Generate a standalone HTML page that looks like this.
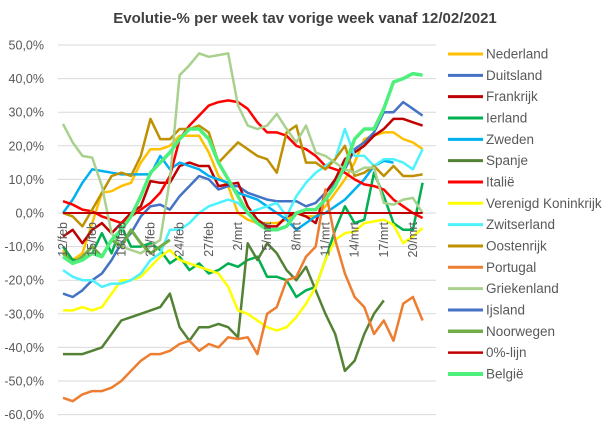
<!DOCTYPE html>
<html><head><meta charset="utf-8"><style>
body{margin:0;background:#fff;}
svg{display:block;font-family:"Liberation Sans",sans-serif;}
</style></head><body>
<svg id="c" width="607" height="424" xmlns="http://www.w3.org/2000/svg">
<rect width="607" height="424" fill="#fff"/>
<text x="305" y="23" text-anchor="middle" font-size="15" font-weight="bold" fill="#404040">Evolutie-% per week tav vorige week vanaf 12/02/2021</text>
<g id="grid"></g><g id="lines"></g><g id="leg"></g>
</svg>
<script>
var NS="http://www.w3.org/2000/svg",svg=document.getElementById('c');
function el(t,a,p,txt){var e=document.createElementNS(NS,t);for(var k in a)e.setAttribute(k,a[k]);if(txt!=null)e.textContent=txt;(p||svg).appendChild(e);return e;}
function Y(v){return 213-3.36*v;}function X(d){return 63+9.72*d;}
var g=document.getElementById('grid');
for(var v=50;v>=-60;v-=10){el('line',{x1:58,x2:436,y1:Y(v),y2:Y(v),stroke:'#d9d9d9','stroke-width':1},g);
el('text',{x:44,y:Y(v)+4.5,'text-anchor':'end','font-size':12.5,fill:'#595959'},g,v.toFixed(1).replace('.',',')+'%');}
var labs=['12/feb','15/feb','18/feb','21/feb','24/feb','27/feb','2/mrt','5/mrt','8/mrt','11/mrt','14/mrt','17/mrt','20/mrt'];
var S=[
['Nederland','#ffc000',2.5,[-11,-14,-12,-3,6,6.5,8,9,15,19,19,20,23,23,23,18,11,8,0,-2,-3,-3,-3,-2,0,-1,-1,2,6,10,15,22,23,24,24,22,21,19]],
['Duitsland','#4472c4',2.5,[-24,-25,-23,-20,-18,-14,-9,-6,-1,2,2.5,1,5,8,11,10,7,8,8,6,5,4,3.5,3.5,3.5,2,3,6,9,13,19,21,24,30,30,33,31,29]],
['Frankrijk','#c00000',2.5,[-7,-5,-9,-5,-3,-6,-3,0,2,9.5,9,9,14,15,14,14,8,8.5,9,2,-2,-4,-4,-1,0,-1,-3,6,10,16,18,20,23,25,28,28,27,26]],
['Ierland','#00b050',2.5,[-10,-14,-14,-12,-6,-12,-4,-10,-10,-9,-11,-15,-13,-17,-15,-18,-17,-15,-16,-14,-13,-19,-19,-20,-25,-23,-22,-14,-5,2,-3,-2,12,5,-3,-5,-5,9]],
['Zweden','#00b0f0',2.5,[0,4,9,13,12.5,12,11.5,11.5,11.5,11.5,17,13,15,14,13,11,10,9,6,5,4,2,0,-2,-5,-3,-1,0,2,4,7,10,14,15.5,15]],
['Spanje','#548235',2.5,[-42,-42,-42,-41,-40,-36,-32,-31,-30,-29,-28,-24,-34,-38,-34,-34,-33,-34,-37,-9,-14,-9,-12,-17,-20,-16,-23,-30,-36,-47,-44,-36,-30,-26]],
['Italië','#ff0000',2.5,[3.5,2.5,1,0.5,-1,-2,-3,-1,1,3,6,11,22,26,29,32,33,33.5,33,31,27,24,24,23,20,19,17,14,13,12,10,8.5,8,7,4,2,0,-1.5]],
['Verenigd Koninkrijk','#ffff00',2.5,[-29,-29,-28,-29,-28,-24,-20,-20,-19,-16,-13,-11,-14,-15,-16,-17,-18,-22,-29,-30,-32,-34,-35,-34,-31,-27,-22,-14,-8,-6,-5.5,-3,-2.5,-2,-3.5,-9,-7,-4.5]],
['Zwitserland','#4df2ff',2.5,[-17,-19,-20,-20,-22,-21,-21,-20,-18,-14,-12,-5,-5,-3,0,2,3,4,3,0,1,2,3,-1,5,9,12,14,16,25,17,17,14,16,16,15,13,19]],
['Oostenrijk','#bf9000',2.5,[0,-1,-4,1,6,11,12,11,17,28,22,22,25,25,26,24,15,18,21,19,17,16,12,24,26,15,15,13,16,20,11,12,14,11,14,11,11,11.5]],
['Portugal','#ed7d31',2.5,[-55,-56,-54,-53,-53,-52,-50,-47,-44,-42,-42,-41,-39,-38,-41,-39,-40,-37,-37.5,-37,-42,-30,-28,-20,-19,-13,-10,7,-8,-18,-25,-28,-36,-32,-38,-27,-25,-32]],
['Griekenland','#a9d18e',2.5,[26.5,21,17,16.5,8,-6,-10,-11,-12,-10,-8,10,41,44,47.5,46.5,47,47.5,32,26,25,26,29.5,25,21,26,18,17,15,13,12,13.5,13.5,3,2.5,4,4.5,0]],
['Ijsland','#4472c4',2.5,[]],
['Noorwegen','#70ad47',3,[-12,-15,-13,-10,-13,-8,-10,-5,-9,-12,-10,-8]],
['0%-lijn','#c00000',2,[0,0,0,0,0,0,0,0,0,0,0,0,0,0,0,0,0,0,0,0,0,0,0,0,0,0,0,0,0,0,0,0,0,0,0,0,0,0]],
['België','#4ef07c',3.5,[-13,-15,-14,-12,-13,-8,-5,-1,5,12,15,18,22,25,25,22,15,10,5,0,-3,-5,-5,-4,0,1,1,4,8,14,22,25,25,31,39,40,41.5,41]]
];
var L=document.getElementById('lines'),G=document.getElementById('leg');
S.forEach(function(s,i){
 if(s[3].length)el('polyline',{points:s[3].map(function(v,d){return X(d).toFixed(1)+','+Y(v).toFixed(1)}).join(' '),fill:'none',stroke:s[1],'stroke-width':s[2],'stroke-linejoin':'round'},L);
 var ly=54+i*21.33;
 el('line',{x1:448,x2:483,y1:ly,y2:ly,stroke:s[1],'stroke-width':s[2]+0.5},G);
 el('text',{x:486,y:ly+4.5,'font-size':13.5,fill:'#595959'},G,s[0]);
});
labs.forEach(function(t,i){var x=X(i*3)+4;el('text',{x:x,y:222,'text-anchor':'end','font-size':12.5,fill:'#595959',transform:'rotate(-90 '+x+' 222)'},svg,t);});
</script>
</body></html>
